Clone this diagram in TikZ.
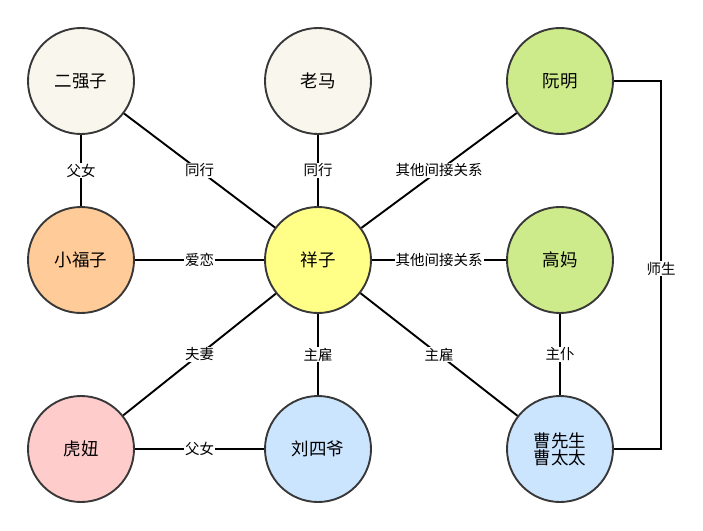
\documentclass[tikz,border=0pt]{standalone}
\usepackage{fontspec}
\setmainfont{Noto Sans CJK SC}
\begin{document}
\begin{tikzpicture}[x=1pt,y=-1pt,
  person/.style={circle,draw=black!78,line width=1.9pt,minimum size=106pt,inner sep=0pt,font=\fontsize{17.5}{20}\selectfont,align=center},
  link/.style={draw=black,line width=1.9pt},
  lbl/.style={fill=white,inner sep=1pt,font=\fontsize{14.5}{17}\selectfont}]
\useasboundingbox (0,0) rectangle (703,530);
\definecolor{cream}{HTML}{F9F7ED}
\definecolor{lgreen}{HTML}{CDEB8B}
\definecolor{lorange}{HTML}{FFCC99}
\definecolor{lyellow}{HTML}{FFFF88}
\definecolor{lpink}{HTML}{FFCCCC}
\definecolor{lblue}{HTML}{CCE5FF}
\node[person,fill=cream] (erq) at (81,81) {二强子};
\node[person,fill=cream] (lm) at (318,81) {老马};
\node[person,fill=lgreen] (rm) at (560,81) {阮明};
\node[person,fill=lorange] (xfz) at (81,260) {小福子};
\node[person,fill=lyellow] (xz) at (318,260) {祥子};
\node[person,fill=lgreen] (gm) at (560,260) {高妈};
\node[person,fill=lpink] (hn) at (81,449) {虎妞};
\node[person,fill=lblue] (lsy) at (318,449) {刘四爷};
\node[person,fill=lblue] (cao) at (560,449) {曹先生\\[-3pt]曹太太};
\coordinate (rt) at (661,81);
\coordinate (rb) at (661,449);
\path[link] (erq) -- node[lbl]{父女} (xfz);
\path[link] (erq) -- node[lbl]{同行} (xz);
\path[link] (lm) -- node[lbl]{同行} (xz);
\path[link] (rm) -- node[lbl]{其他间接关系} (xz);
\path[link] (xfz) -- node[lbl]{爱恋} (xz);
\path[link] (gm) -- node[lbl]{其他间接关系} (xz);
\path[link] (hn) -- node[lbl]{夫妻} (xz);
\path[link] (lsy) -- node[lbl]{主雇} (xz);
\path[link] (cao) -- node[lbl]{主雇} (xz);
\path[link] (cao) -- node[lbl]{主仆} (gm);
\path[link] (hn) -- node[lbl]{父女} (lsy);
\path[link] (rm.east) -- (rt) -- node[lbl,pos=0.51]{师生} (rb) -- (cao.east);
\end{tikzpicture}
\end{document}
